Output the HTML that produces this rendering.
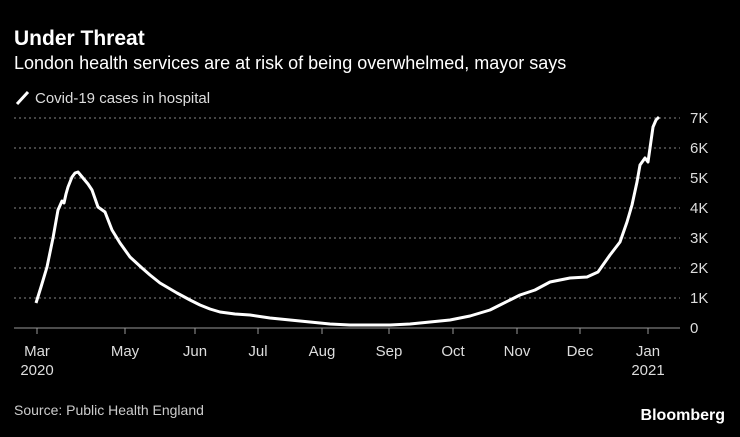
<!DOCTYPE html>
<html><head><meta charset="utf-8"><style>
html,body{margin:0;padding:0;background:#000;}
body{width:740px;height:432px;overflow:hidden;font-family:"Liberation Sans",sans-serif;color:#fff;}
</style></head><body>
<svg width="740" height="432" xmlns="http://www.w3.org/2000/svg" font-family="Liberation Sans, sans-serif">
<rect width="740" height="432" fill="#000"/>
<text x="14" y="45" font-size="21" font-weight="bold" fill="#fff">Under Threat</text>
<text x="14" y="69" font-size="18" fill="#fff">London health services are at risk of being overwhelmed, mayor says</text>
<line x1="17" y1="104" x2="28" y2="92" stroke="#fff" stroke-width="3"/>
<text x="35" y="103" font-size="15" fill="#ddd">Covid-19 cases in hospital</text>
<g stroke="#888" stroke-width="1" stroke-dasharray="2,3">
<line x1="14" y1="118" x2="680" y2="118"/>
<line x1="14" y1="148" x2="680" y2="148"/>
<line x1="14" y1="178" x2="680" y2="178"/>
<line x1="14" y1="208" x2="680" y2="208"/>
<line x1="14" y1="238" x2="680" y2="238"/>
<line x1="14" y1="268" x2="680" y2="268"/>
<line x1="14" y1="298" x2="680" y2="298"/>
</g>
<line x1="14" y1="328" x2="680" y2="328" stroke="#999" stroke-width="1"/>
<g font-size="15" fill="#ddd">
<text x="690" y="123">7K</text><text x="690" y="153">6K</text><text x="690" y="183">5K</text>
<text x="690" y="213">4K</text><text x="690" y="243">3K</text><text x="690" y="273">2K</text>
<text x="690" y="303">1K</text><text x="690" y="333">0</text>
</g>
<g stroke="#999" stroke-width="1">
<line x1="37" y1="328" x2="37" y2="334"/><line x1="125" y1="328" x2="125" y2="334"/>
<line x1="195" y1="328" x2="195" y2="334"/><line x1="258" y1="328" x2="258" y2="334"/>
<line x1="322" y1="328" x2="322" y2="334"/><line x1="389" y1="328" x2="389" y2="334"/>
<line x1="453" y1="328" x2="453" y2="334"/><line x1="517" y1="328" x2="517" y2="334"/>
<line x1="580" y1="328" x2="580" y2="334"/><line x1="648" y1="328" x2="648" y2="334"/>
</g>
<g font-size="15" fill="#ddd" text-anchor="middle">
<text x="37" y="356">Mar</text><text x="37" y="375">2020</text>
<text x="125" y="356">May</text><text x="195" y="356">Jun</text><text x="258" y="356">Jul</text>
<text x="322" y="356">Aug</text><text x="389" y="356">Sep</text><text x="453" y="356">Oct</text>
<text x="517" y="356">Nov</text><text x="580" y="356">Dec</text>
<text x="648" y="356">Jan</text><text x="648" y="375">2021</text>
</g>
<polyline fill="none" stroke="#fff" stroke-width="3" stroke-linejoin="round" points="36,303 41,287 47,267 53,238 58,210 62,201 64,203 66,194 68,187 72,177 75,173 78,172 83,178 88,184 92,190 98,207 105,212 112,230 120,243 130,257 142,268 150,275 160,283 177,293 190,300 200,305 210,309 220,312 235,314 250,315 270,318 290,320 310,322 330,324 350,325 370,325 390,325 410,324 430,322 450,320 470,316 490,310 500,305 510,300 520,295 535,290 550,282 560,280 570,278 587,277 598,272 610,255 620,242 627,222 632,205 637,182 640,165 645,158 648,162 650,148 653,127 656,120 659,117"/>
<text x="14" y="415" font-size="14" fill="#ccc">Source: Public Health England</text>
<text x="725" y="420" font-size="16" font-weight="bold" fill="#fff" text-anchor="end">Bloomberg</text>
</svg>
</body></html>
